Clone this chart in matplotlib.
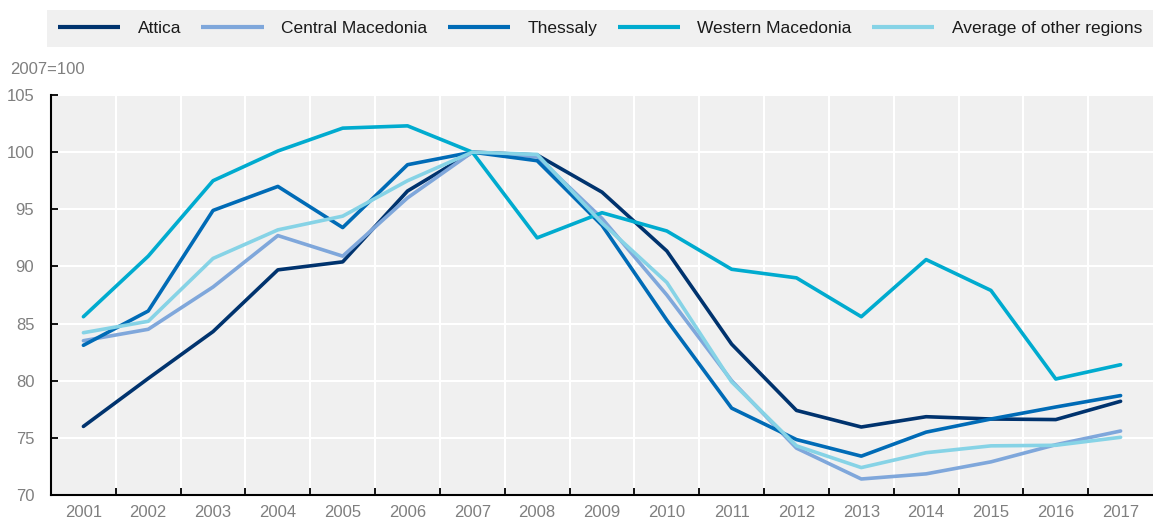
import numpy as np
import matplotlib
matplotlib.use("Agg")
import matplotlib.pyplot as plt

# ---------------- Data (2007=100) ----------------

years = ['2001', '2002', '2003', '2004', '2005', '2006', '2007', '2008', '2009',
         '2010', '2011', '2012', '2013', '2014', '2015', '2016', '2017']

attica = [76.0, 80.2, 84.3, 89.7, 90.4, 96.6, 100.0, 99.75, 96.5,
          91.35, 83.2, 77.4, 75.95, 76.85, 76.65, 76.6, 78.2]
central_macedonia = [83.5, 84.5, 88.2, 92.7, 90.9, 96.0, 100.0, 99.6, 94.2,
                     87.5, 80.0, 74.1, 71.4, 71.85, 72.9, 74.4, 75.6]
thessaly = [83.1, 86.1, 94.9, 97.0, 93.4, 98.9, 100.0, 99.25, 93.6,
            85.3, 77.6, 74.85, 73.4, 75.5, 76.65, 77.7, 78.7]
western_macedonia = [85.6, 90.9, 97.5, 100.1, 102.1, 102.3, 100.0, 92.5, 94.7,
                     93.1, 89.75, 89.0, 85.6, 90.6, 87.9, 80.15, 81.4]
avg_other = [84.2, 85.2, 90.7, 93.2, 94.4, 97.5, 100.0, 99.8, 93.8,
             88.6, 79.9, 74.3, 72.4, 73.7, 74.3, 74.35, 75.05]

series = [
    ('Attica', attica, '#00336e'),
    ('Central Macedonia', central_macedonia, '#7fa7db'),
    ('Thessaly', thessaly, '#006bb6'),
    ('Western Macedonia', western_macedonia, '#00abcf'),
    ('Average of other regions', avg_other, '#86d3e6'),
]

# ---------------- Plot ----------------

plt.rcParams['font.family'] = ['Liberation Sans Narrow', 'Liberation Sans', 'DejaVu Sans']

W, H = 1153, 518
fig = plt.figure(figsize=(W / 100, H / 100), dpi=100)
ax = fig.add_axes([51 / W, (H - 495) / H, (W - 51) / W, 400 / H])
ax.set_facecolor('#f0f0f0')

x = np.arange(len(years))
handles = []
for name, vals, col in series:
    ln, = ax.plot(x, vals, color=col, lw=2.6, label=name, solid_capstyle='round')
    handles.append(ln)

ax.set_xlim(-0.5, len(years) - 0.5)
ax.set_ylim(70, 105)
ax.set_yticks(np.arange(70, 106, 5))
ax.set_xticks(x, years)
ax.set_xticks(np.arange(0.5, len(years) - 1, 1), minor=True)

ax.grid(True, axis='y', which='major', color='white', lw=1.5)
ax.grid(True, axis='x', which='minor', color='white', lw=1.5)
ax.grid(False, axis='x', which='major')
ax.set_axisbelow(True)

for s in ['top', 'right']:
    ax.spines[s].set_visible(False)
for s in ['left', 'bottom']:
    ax.spines[s].set_color('black')
    ax.spines[s].set_linewidth(1.5)

ax.tick_params(axis='x', which='major', length=0, pad=7, labelsize=12, labelcolor='#7f7f7f')
ax.tick_params(axis='x', which='minor', direction='in', length=5, width=1.3, color='black')
ax.tick_params(axis='y', direction='in', length=5, width=1.3, color='black',
               pad=12, labelsize=12, labelcolor='#7f7f7f')

fig.text(10 / W, 1 - 70 / H, '2007=100', fontsize=12, color='#7f7f7f', va='center', ha='left')

leg = fig.legend(handles=handles, loc='center', ncol=5, mode='expand',
                 bbox_to_anchor=(47 / W, 1 - 47 / H, (W - 47) / W, 37 / H),
                 frameon=True, fancybox=False, facecolor='#f0f0f0', edgecolor='none',
                 borderaxespad=0, fontsize=12.5, handlelength=3.6, handletextpad=1.0,
                 borderpad=0.62)
leg.get_frame().set_alpha(1)
for t in leg.get_texts():
    t.set_color('#1a1a1a')
for lh in leg.get_lines():
    lh.set_linewidth(3)
    lh.set_solid_capstyle('butt')

plt.savefig('out.png', dpi=100)
